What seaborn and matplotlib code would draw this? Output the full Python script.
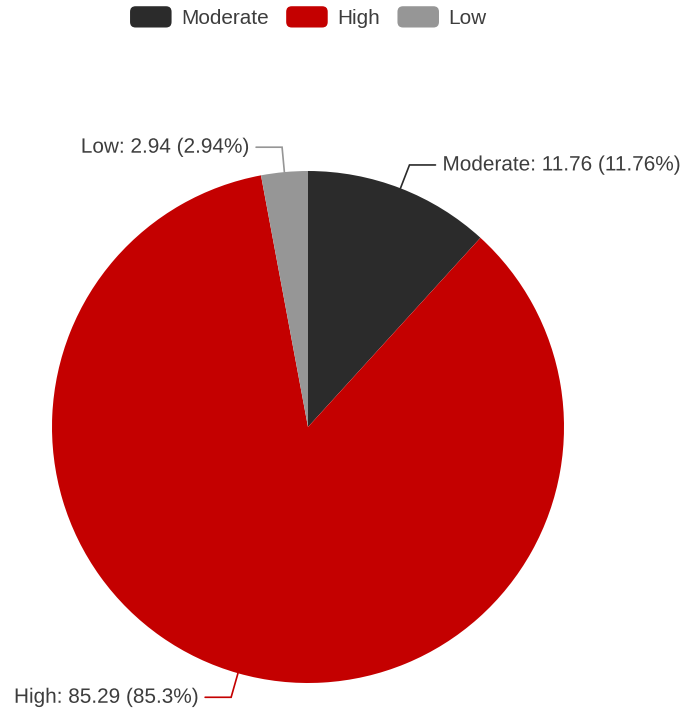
import numpy as np
import matplotlib
matplotlib.use("Agg")
import matplotlib.pyplot as plt
import matplotlib.patheffects as pe
from matplotlib.patches import FancyBboxPatch
from matplotlib.legend_handler import HandlerPatch
import seaborn as sns

# Data
categories = ["Moderate", "High", "Low"]
values = [11.76, 85.29, 2.94]
pct_labels = ["11.76%", "85.3%", "2.94%"]
colors = ["#2b2b2b", "#c40000", "#969696"]

sns.set_theme(style="white")
plt.rcParams["font.family"] = ["Liberation Sans", "DejaVu Sans"]

W, H = 685, 715
fig = plt.figure(figsize=(W / 100, H / 100), dpi=100)
ax = fig.add_axes([0, 0, 1, 1])

cx, cy, r = 308, 288, 256
palette = sns.color_palette(colors)
wedges, _ = ax.pie(values, colors=palette, startangle=90, counterclock=False,
                   center=(cx, cy), radius=r, frame=True,
                   wedgeprops=dict(linewidth=0))
ax.set_xlim(0, W)
ax.set_ylim(0, H)
ax.set_aspect("equal")
ax.axis("off")

text_color = "#3d3d3d"
outline = [pe.withStroke(linewidth=3, foreground="white")]
fs = 14.95

# Leader lines and value labels
for w, cat, v, p, c in zip(wedges, categories, values, pct_labels, colors):
    ang = np.deg2rad((w.theta1 + w.theta2) / 2)
    x0, y0 = cx + r * np.cos(ang), cy + r * np.sin(ang)
    x1, y1 = cx + (r + 25) * np.cos(ang), cy + (r + 25) * np.sin(ang)
    side = 1 if np.cos(ang) >= 0 else -1
    x2 = x1 + side * 26
    ax.plot([x0, x1, x2], [y0, y1, y1], color=c, lw=1.2, solid_joinstyle="miter")
    ax.text(x2 + side * 7, y1, f"{cat}: {v:g} ({p})", fontsize=fs, color=text_color,
            ha="left" if side > 0 else "right", va="center", path_effects=outline)


class RoundBoxHandler(HandlerPatch):
    def create_artists(self, legend, orig_handle, xdescent, ydescent, width, height,
                       fontsize, trans):
        box = FancyBboxPatch((-xdescent + 1.5, -ydescent + 1.5), width - 3, height - 3,
                             boxstyle="round,pad=1.5,rounding_size=4",
                             facecolor=orig_handle.get_facecolor(), edgecolor="none",
                             transform=trans)
        return [box]


handles = [FancyBboxPatch((0, 0), 1, 1, facecolor=col) for col in colors]
leg = fig.legend(handles, categories, loc="upper center", bbox_to_anchor=(0.45, 1.0),
                 ncol=3, frameon=False, fontsize=fs, handlelength=2.0, handleheight=1.2,
                 handletextpad=0.45, columnspacing=0.85, borderaxespad=0.0,
                 borderpad=0.3, handler_map={FancyBboxPatch: RoundBoxHandler()})
for t in leg.get_texts():
    t.set_color(text_color)

fig.savefig("out.png", dpi=100, facecolor="white")
